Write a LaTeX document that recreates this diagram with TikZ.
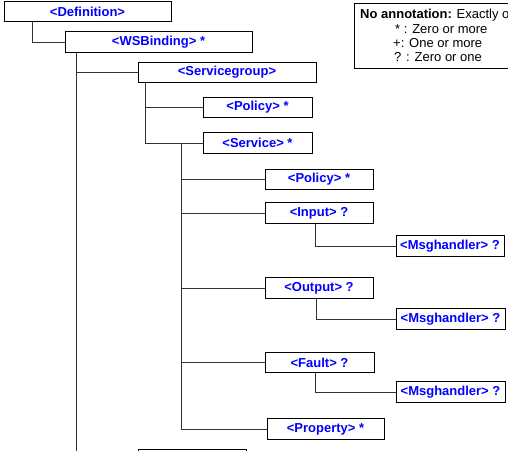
\documentclass[tikz,border=0pt]{standalone}
\usepackage{fontspec}
\setmainfont{Liberation Sans}
\begin{document}
\begin{tikzpicture}[x=1pt,y=-1pt,
  tbox/.style={draw=black,line width=1pt,fill=white,inner sep=0pt,minimum height=20.5pt,
     font=\fontsize{13}{15}\selectfont\bfseries,text=blue},
  conn/.style={draw=black!80,line width=1pt},
  leg/.style={anchor=west,inner sep=0pt,font=\fontsize{13}{15}\selectfont}]
\clip (0,0) rectangle (508,450);
\fill[white] (0,0) rectangle (508,450);
% boxes
\node[tbox,minimum width=167pt] (def) at (87.5,11.5) {<Definition>};
\node[tbox,minimum width=187pt] (wsb) at (158.5,42) {<WSBinding> *};
\node[tbox,minimum width=178pt] (sg) at (227,72.5) {<Servicegroup>};
\node[tbox,minimum width=109pt] (pol1) at (257.5,107.5) {<Policy> *};
\node[tbox,minimum width=109pt] (svc) at (257.5,143) {<Service> *};
\node[tbox,minimum width=108pt] (pol2) at (319,179.5) {<Policy> *};
\node[tbox,minimum width=108pt] (inp) at (319,213) {<Input> ?};
\node[tbox,minimum width=108pt] (mh1) at (450,246) {<Msghandler> ?};
\node[tbox,minimum width=108pt] (out) at (319,288) {<Output> ?};
\node[tbox,minimum width=109pt] (mh2) at (450.5,319) {<Msghandler> ?};
\node[tbox,minimum width=109pt] (flt) at (319.5,362.5) {<Fault> ?};
\node[tbox,minimum width=109pt] (mh3) at (450.5,392) {<Msghandler> ?};
\node[tbox,minimum width=117pt] (prop) at (325.5,429) {<Property> *};
\node[tbox,minimum width=108pt] (next) at (192,459.5) {};
% connectors
\draw[conn] ([xshift=29pt]def.south west) |- (wsb.west);
\coordinate (wb) at ([xshift=12pt]wsb.south west);
\draw[conn] (wb) |- (next.west);
\draw[conn] (wb |- sg.west) -- (sg.west);
\coordinate (sgb) at ([xshift=8pt]sg.south west);
\draw[conn] (sgb) |- (svc.west);
\draw[conn] (sgb |- pol1.west) -- (pol1.west);
\coordinate (sv) at ([xshift=-21pt]svc.west);
\draw[conn] (sv) |- (prop.west);
\draw[conn] (sv |- pol2.west) -- (pol2.west);
\draw[conn] (sv |- inp.west) -- (inp.west);
\draw[conn] (sv |- out.west) -- (out.west);
\draw[conn] (sv |- flt.west) -- (flt.west);
\draw[conn] ([xshift=51pt]inp.south west) |- (mh1.west);
\draw[conn] ([xshift=52pt]out.south west) |- (mh2.west);
\draw[conn] ([xshift=51pt]flt.south west) |- (mh3.west);
% legend
\node[draw=black,line width=1pt,fill=white,anchor=north west,minimum width=170pt,minimum height=65pt,inner sep=0pt] (legend) at (354,3) {};
\node[leg] (l1) at (360,15) {\textbf{No annotation:} Exactly one};
\node[leg] (l2) at (395,29) {* : Zero or more};
\node[leg] (l3) at (393,43) {+: One or more};
\node[leg] (l4) at (394,57) {? : Zero or one};
\end{tikzpicture}
\end{document}
